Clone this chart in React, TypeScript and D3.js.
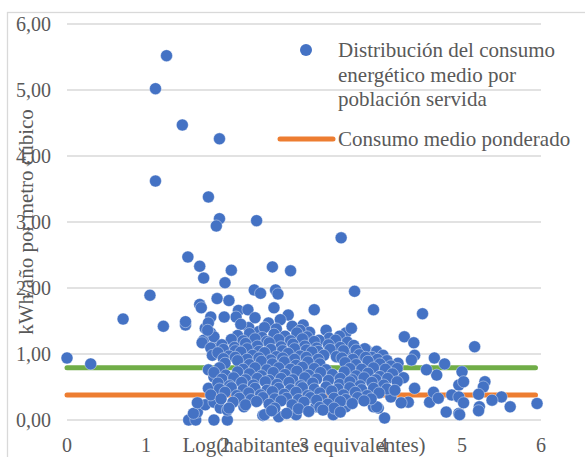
import * as d3 from 'd3';
import React from 'react';

// chart values
const xTicks = [0, 1, 2, 3, 4, 5, 6];
const yTicks = [0, 1, 2, 3, 4, 5, 6];

const seriesName = ["Distribución del consumo", "energético medio por", "población servida"];
const meanName = "Consumo medio ponderado";

// horizontal reference lines
const greenLevel = 0.79;
const meanLevel = 0.38;
const lineSpan = [0, 5.93];

// scattered points (log habitantes, kWh/m3)
const outliers = [
  [1.26, 5.52], [1.12, 5.02], [1.46, 4.47], [1.93, 4.26], [1.12, 3.62], [1.79, 3.38], [1.93, 3.05], [1.89, 2.94],
  [2.40, 3.02], [3.47, 2.76], [1.53, 2.47], [1.68, 2.33], [1.73, 2.15], [2.08, 2.27], [2.60, 2.32], [2.83, 2.26],
  [2.00, 2.08], [3.64, 1.95], [1.05, 1.89], [0.71, 1.53], [1.22, 1.42], [1.50, 1.44], [1.50, 1.49], [0, 0.94], [0.30, 0.85],
];

const upperCloud = [
  [2.37, 1.97], [2.45, 1.92], [2.64, 1.97], [2.67, 1.91], [1.68, 1.75], [1.70, 1.70], [1.90, 1.84], [2.05, 1.81],
  [2.17, 1.66], [2.29, 1.67], [2.14, 1.56], [2.62, 1.70], [2.80, 1.59], [1.82, 1.56], [1.99, 1.56], [1.75, 1.39],
  [1.73, 1.21], [1.84, 1.11], [1.82, 1.32], [1.79, 1.47], [1.86, 1.26], [2.30, 1.40], [2.43, 1.34], [2.55, 1.47],
  [2.70, 1.52], [2.11, 1.18], [2.28, 1.18], [3.13, 1.67], [3.88, 1.67], [4.50, 1.61], [2.99, 1.44], [3.07, 1.33],
  [3.28, 1.36], [3.32, 1.24], [3.19, 1.21], [3.53, 1.32], [3.60, 1.39], [3.37, 1.06], [3.56, 1.01], [3.79, 1.06],
  [2.20, 1.45], [2.38, 1.55], [2.50, 1.40], [2.65, 1.38], [2.85, 1.42], [2.95, 1.36],
];

const rightTail = [
  [4.27, 1.26], [4.39, 1.17], [4.40, 0.98], [4.36, 0.91], [4.65, 0.94], [4.78, 0.85], [5.00, 0.73], [4.68, 0.68],
  [4.55, 0.76], [4.19, 0.86], [4.02, 0.71], [4.40, 0.48], [4.32, 0.27], [4.59, 0.27], [4.80, 0.12], [4.96, 0.10],
  [4.02, 0.03], [3.94, 0.18], [4.87, 0.38], [4.96, 0.53], [4.10, 0.35], [4.23, 0.26], [4.64, 0.42], [4.70, 0.33],
  [5.16, 1.11], [5.95, 0.25], [5.61, 0.20], [5.50, 0.35], [5.38, 0.30], [5.29, 0.58], [5.27, 0.50], [5.21, 0.39],
  [5.22, 0.20], [5.21, 0.14], [5.02, 0.58], [4.96, 0.35], [5.02, 0.26], [4.97, 0.08],
];

const lowerEdge = [
  [1.54, 0.0], [1.63, 0.0], [1.86, 0.0], [2.03, 0.0], [1.65, 0.12], [1.75, 0.23], [1.86, 0.27], [1.94, 0.18],
  [2.03, 0.15], [1.79, 0.48], [1.79, 0.76], [1.86, 0.65], [1.71, 1.17], [1.82, 1.09], [1.84, 0.98], [1.78, 1.36],
  [1.60, 0.10], [1.65, 0.26], [2.48, 0.07], [2.68, 0.05], [2.24, 0.20], [2.50, 0.08], [2.90, 0.08], [3.37, 0.08],
  [3.53, 0.20], [3.15, 0.20], [3.88, 0.20], [3.92, 0.20],
];

const denseCloud = [
  [2.16, 1.28], [2.31, 1.31], [2.47, 1.25], [2.62, 1.30], [2.76, 1.27], [2.91, 1.32], [3.04, 1.26], [3.45, 1.27],
  [2.08, 1.22], [2.23, 1.20], [2.38, 1.23], [2.53, 1.19], [2.68, 1.22], [2.83, 1.20], [2.98, 1.23], [3.13, 1.19],
  [3.40, 1.21], [3.55, 1.18],
  [1.96, 1.14], [2.12, 1.10], [2.26, 1.16], [2.41, 1.12], [2.56, 1.17], [2.71, 1.11], [2.86, 1.15], [3.01, 1.12],
  [3.16, 1.09], [3.31, 1.14], [3.46, 1.10], [3.63, 1.13], [3.77, 1.08],
  [1.98, 1.07], [2.13, 1.05], [2.28, 1.08], [2.43, 1.04], [2.58, 1.07], [2.73, 1.05], [2.88, 1.08], [3.03, 1.06],
  [3.18, 1.04], [3.33, 1.07], [3.50, 1.05], [3.66, 1.06], [3.92, 1.04],
  [1.91, 1.02], [2.05, 0.97], [2.20, 1.03], [2.35, 0.98], [2.50, 1.02], [2.65, 0.96], [2.80, 1.01], [2.95, 0.97],
  [3.10, 1.03], [3.25, 0.98], [3.41, 0.96], [3.70, 0.99], [3.86, 0.95], [4.00, 0.98],
  [1.98, 0.93], [2.13, 0.95], [2.28, 0.92], [2.43, 0.94], [2.58, 0.91], [2.73, 0.94], [2.88, 0.92], [3.03, 0.95],
  [3.18, 0.92], [3.48, 0.94], [3.62, 0.92], [3.78, 0.95], [3.93, 0.92], [4.05, 0.90],
  [2.00, 0.86], [2.16, 0.90], [2.31, 0.84], [2.46, 0.89], [2.60, 0.85], [2.75, 0.88], [2.90, 0.83], [3.05, 0.88],
  [3.20, 0.85], [3.52, 0.87], [3.66, 0.84], [3.81, 0.89], [3.96, 0.85], [4.10, 0.82],
  [1.93, 0.79], [2.23, 0.77], [2.38, 0.79], [2.53, 0.76], [2.68, 0.79], [2.83, 0.77], [2.98, 0.80], [3.13, 0.78],
  [3.28, 0.76], [3.58, 0.78], [3.73, 0.77], [3.88, 0.79], [4.03, 0.77], [4.18, 0.78],
  [1.86, 0.72], [2.01, 0.68], [2.16, 0.73], [2.31, 0.70], [2.46, 0.67], [2.61, 0.72], [2.76, 0.69], [2.91, 0.74],
  [3.06, 0.68], [3.21, 0.72], [3.36, 0.69], [3.51, 0.73], [3.66, 0.67], [3.81, 0.71], [3.96, 0.66], [4.12, 0.70], [4.26, 0.64],
  [1.96, 0.62], [2.11, 0.64], [2.26, 0.61], [2.41, 0.63], [2.56, 0.60], [2.71, 0.63], [2.86, 0.61], [3.01, 0.64],
  [3.16, 0.62], [3.31, 0.60], [3.46, 0.63], [3.61, 0.61], [3.76, 0.64], [3.91, 0.61], [4.06, 0.63],
  [1.91, 0.56], [2.06, 0.52], [2.21, 0.57], [2.36, 0.53], [2.51, 0.58], [2.66, 0.54], [2.81, 0.57], [2.96, 0.52],
  [3.11, 0.56], [3.45, 0.54], [3.58, 0.58], [3.71, 0.52], [3.86, 0.57], [4.01, 0.53], [4.18, 0.58],
  [1.93, 0.47], [2.08, 0.49], [2.23, 0.46], [2.38, 0.48], [2.53, 0.45], [2.68, 0.48], [2.83, 0.46], [2.98, 0.49],
  [3.13, 0.47], [3.28, 0.50], [3.43, 0.47], [3.58, 0.49], [3.73, 0.46], [3.88, 0.48], [4.05, 0.47],
  [1.82, 0.38], [2.00, 0.42], [2.15, 0.37], [2.30, 0.41], [2.45, 0.38], [2.60, 0.43], [2.75, 0.39], [2.90, 0.42],
  [3.05, 0.37], [3.20, 0.41], [3.35, 0.44], [3.50, 0.38], [3.65, 0.42], [3.80, 0.37], [3.95, 0.41], [4.15, 0.45],
  [1.95, 0.32], [2.18, 0.33], [2.33, 0.31], [2.48, 0.34], [2.63, 0.32], [2.78, 0.33], [2.93, 0.31], [3.08, 0.34],
  [3.23, 0.32], [3.38, 0.33], [3.53, 0.31], [3.68, 0.34], [3.85, 0.32],
  [2.10, 0.27], [2.26, 0.23], [2.40, 0.28], [2.56, 0.24], [2.71, 0.29], [2.85, 0.23], [3.00, 0.27], [3.16, 0.30],
  [3.30, 0.24], [3.46, 0.28], [3.61, 0.25], [3.76, 0.29],
  [2.05, 0.18], [2.63, 0.18], [2.93, 0.17], [3.20, 0.19], [3.38, 0.18],
  [2.59, 0.14], [2.78, 0.10], [3.06, 0.13], [3.24, 0.15], [3.46, 0.12],
];

const points = [...outliers, ...upperCloud, ...rightTail, ...lowerEdge, ...denseCloud];

const W = 585;
const H = 457;
const font = "'Liberation Serif', 'Times New Roman', serif";
const textColor = "#595959";
const gridColor = "#D9D9D9";

function App() {
  const x = d3.scaleLinear().domain([0, 6]).range([67, 541]);
  const y = d3.scaleLinear().domain([0, 6]).range([420, 24]);
  const fmt = (v) => d3.format(".2f")(v).replace(".", ",");

  const hline = (level) =>
    d3.line()([[x(lineSpan[0]), y(level)], [x(lineSpan[1]), y(level)]]);

  return (
    <svg width={W} height={H} style={{ position: "absolute", left: 0, top: 0 }}
      fontFamily={font}>
      <rect x={7.5} y={12.5} width={W + 10} height={H + 10} fill="white" stroke={gridColor} strokeWidth={1.3} />

      {/* gridlines */}
      {yTicks.map(t => (
        <line key={"g" + t} x1={x(0)} x2={x(6)} y1={y(t)} y2={y(t)} stroke={gridColor} strokeWidth={1.5} />
      ))}

      {/* y tick labels */}
      {yTicks.map(t => (
        <text key={"yl" + t} x={51} y={y(t) + 7} textAnchor="end" fontSize={20} fill={textColor}>{fmt(t)}</text>
      ))}

      {/* x tick labels */}
      {xTicks.map(t => (
        <text key={"xl" + t} x={x(t)} y={452} textAnchor="middle" fontSize={20} fill={textColor}>{t}</text>
      ))}

      {/* axis titles */}
      <text x={(x(0) + x(6)) / 2} y={452} textAnchor="middle" fontSize={21} fill={textColor}>
        Log(habitantes equivalentes)
      </text>
      <text transform={`translate(33, ${(y(0) + y(6)) / 2}) rotate(-90)`} textAnchor="middle" fontSize={21} fill={textColor}>
        kWh/año por metro cúbico
      </text>

      {/* reference lines */}
      <path d={hline(greenLevel)} stroke="#70AD47" strokeWidth={5} strokeLinecap="round" fill="none" />
      <path d={hline(meanLevel)} stroke="#ED7D31" strokeWidth={5} strokeLinecap="round" fill="none" />

      {/* points */}
      {points.map((p, i) => (
        <circle key={i} cx={x(p[0])} cy={y(p[1])} r={6} fill="#4472C4" stroke="white" strokeWidth={0.4} />
      ))}

      {/* legend */}
      <circle cx={306} cy={50} r={6} fill="#4472C4" />
      {seriesName.map((s, i) => (
        <text key={s} x={338} y={57 + i * 24.5} fontSize={21} fill={textColor}>{s}</text>
      ))}
      <line x1={280} x2={333} y1={139} y2={139} stroke="#ED7D31" strokeWidth={5} strokeLinecap="round" />
      <text x={338} y={146} fontSize={21} fill={textColor}>{meanName}</text>
    </svg>
  );
}

export default App;
